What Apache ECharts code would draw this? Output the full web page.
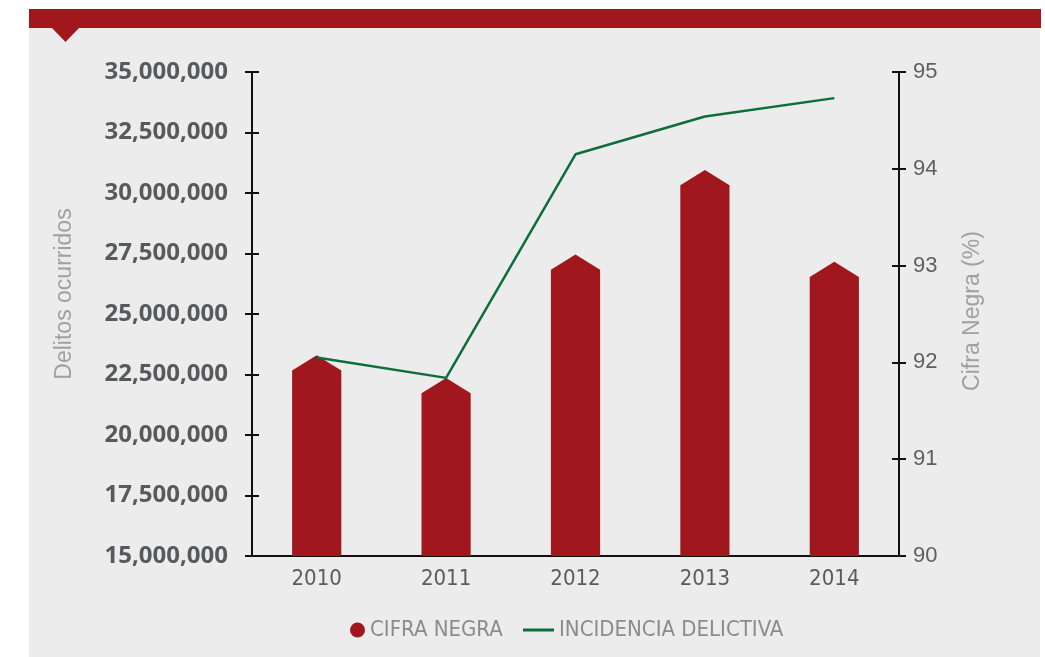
<!DOCTYPE html>
<html>
<head>
<meta charset="utf-8">
<script src="https://cdn.jsdelivr.net/npm/echarts@6/dist/echarts.min.js"></script>
<style>
  html, body { margin: 0; padding: 0; background: #fff; }
  #graph { width: 1045px; height: 657px; }
</style>
</head>
<body>
<div id="graph"></div>
<script>
const years = ['2010', '2011', '2012', '2013', '2014']
const delitos = [23300000, 22360000, 27460000, 30950000, 27160000]
const incidencia = [92.05, 91.84, 94.15, 94.54, 94.73]
const leftRange = [15000000, 35000000, 2500000]
const rightRange = [90, 95, 1]
const legendNames = ['CIFRA NEGRA', 'INCIDENCIA DELICTIVA']

const red = '#a1171e'
const green = '#0b6e3b'
const narrow = '"Liberation Sans Narrow", "DejaVu Sans Condensed", sans-serif'

const graph = echarts.init(document.getElementById('graph'))

const withCommas = v => String(v).replace(/\B(?=(\d{3})+(?!\d))/g, ',')

// bar with a pointed roof, drawn from the axes
const houseBar = (params, api) => {
  const top = api.coord([api.value(0), api.value(1)])
  const base = api.coord([api.value(0), leftRange[0]])
  const w = api.size([1, 0])[0] * 0.38
  const roof = w * 0.31
  return {
    type: 'polygon',
    shape: {
      points: [
        [top[0] - w / 2, base[1]],
        [top[0] - w / 2, top[1] + roof],
        top,
        [top[0] + w / 2, top[1] + roof],
        [top[0] + w / 2, base[1]]
      ]
    },
    style: api.style()
  }
}

const tickOnly = (position, range) => ({
  type: 'value',
  position,
  min: range[0],
  max: range[1],
  interval: range[2],
  axisLine: {show: false},
  axisLabel: {show: false},
  splitLine: {show: false},
  axisTick: {show: true, inside: true, length: 7, lineStyle: {color: '#111', width: 2}}
})

const option = {
  backgroundColor: '#fff',
  animation: false,
  graphic: [
    {type: 'rect', z: -10, shape: {x: 29, y: 9, width: 1011, height: 648}, style: {fill: '#ececec'}},
    {type: 'rect', z: -9, shape: {x: 29, y: 9, width: 1012, height: 19}, style: {fill: red}},
    {type: 'polygon', z: -9, shape: {points: [[51, 27], [80, 27], [65.5, 42]]}, style: {fill: red}}
  ],
  grid: {left: 252, right: 146, top: 72, bottom: 101},
  legend: [
    {
      left: 345,
      top: 614,
      itemWidth: 15,
      itemHeight: 15,
      data: [{name: legendNames[0], icon: 'circle'}],
      textStyle: {color: '#8b8b8e', fontSize: 22, fontFamily: narrow}
    },
    {
      left: 518,
      top: 614,
      itemWidth: 31,
      itemHeight: 3,
      data: [{name: legendNames[1], icon: 'rect'}],
      textStyle: {color: '#8b8b8e', fontSize: 22, fontFamily: narrow}
    }
  ],
  xAxis: {
    type: 'category',
    data: years,
    boundaryGap: true,
    axisLine: {lineStyle: {color: '#111', width: 2}},
    axisTick: {length: 10, lineStyle: {color: '#111', width: 2}},
    axisLabel: {color: '#5b5b5d', fontSize: 22, fontFamily: narrow, margin: 12}
  },
  yAxis: [
    {
      type: 'value',
      position: 'left',
      min: leftRange[0],
      max: leftRange[1],
      interval: leftRange[2],
      name: 'Delitos ocurridos',
      nameLocation: 'middle',
      nameGap: 176,
      nameTextStyle: {color: '#a0a0a1', fontSize: 23, fontFamily: 'Liberation Sans', padding: [0, 0, 0, 40]},
      axisLine: {show: true, lineStyle: {color: '#111', width: 2}},
      axisTick: {show: true, length: 7, lineStyle: {color: '#111', width: 2}},
      splitLine: {show: false},
      axisLabel: {
        color: '#58595b',
        fontSize: 24,
        fontWeight: 'bold',
        fontFamily: 'Open Sans',
        margin: 24,
        formatter: withCommas
      }
    },
    {
      type: 'value',
      position: 'right',
      min: rightRange[0],
      max: rightRange[1],
      interval: rightRange[2],
      name: 'Cifra Negra (%)',
      nameLocation: 'middle',
      nameGap: 62,
      nameTextStyle: {color: '#a0a0a1', fontSize: 23, fontFamily: 'Liberation Sans', padding: [0, 0, 0, 6]},
      axisLine: {show: true, lineStyle: {color: '#111', width: 2}},
      axisTick: {show: true, length: 7, lineStyle: {color: '#111', width: 2}},
      splitLine: {show: false},
      axisLabel: {color: '#5f5f61', fontSize: 22, fontFamily: 'Liberation Sans', margin: 14}
    },
    tickOnly('left', leftRange),
    tickOnly('right', rightRange)
  ],
  series: [
    {
      name: legendNames[0],
      type: 'custom',
      renderItem: houseBar,
      encode: {x: 0, y: 1},
      itemStyle: {color: red},
      data: delitos.map((v, i) => [i, v]),
      z: 2
    },
    {
      name: legendNames[1],
      type: 'line',
      yAxisIndex: 1,
      data: incidencia,
      symbol: 'none',
      itemStyle: {color: green},
      lineStyle: {color: green, width: 2.5},
      z: 3
    }
  ]
}

graph.setOption(option)
</script>
</body>
</html>
